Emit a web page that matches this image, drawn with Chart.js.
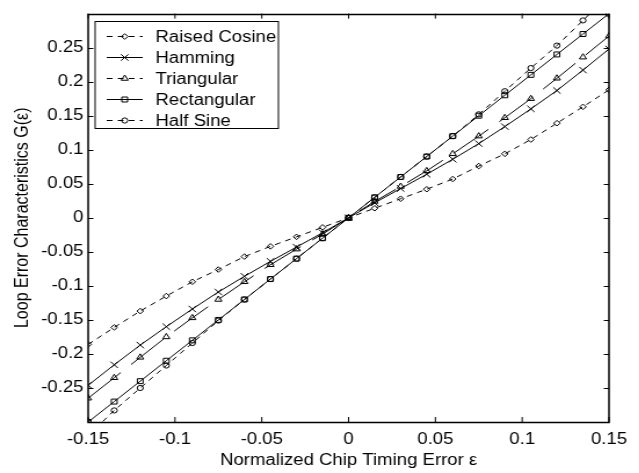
<!DOCTYPE html>
<html>
<head>
<meta charset="utf-8">
<script src="https://cdn.jsdelivr.net/npm/chart.js@4.4.1/dist/chart.umd.min.js"></script>
<style>
  html, body { margin: 0; padding: 0; background: #fff; }
  #wrap { width: 639px; height: 473px; overflow: hidden; }
  /* the original figure is stretched sideways, so the canvas is too */
  #loopChart { transform: scaleX(1.16); transform-origin: 0 0; }
</style>
</head>
<body>
<div id="wrap"><canvas id="loopChart" width="551" height="473"></canvas></div>
<script>
// Loop error characteristics of the DLL for several chip pulse shapes

// ============================================================
// DATA
// ============================================================
const eps = [-0.15, -0.135, -0.12, -0.105, -0.09, -0.075, -0.06, -0.045, -0.03, -0.015, 0,
             0.015, 0.03, 0.045, 0.06, 0.075, 0.09, 0.105, 0.12, 0.135, 0.15];

const raisedCosine = [-0.186, -0.161, -0.137, -0.115, -0.094, -0.076, -0.057, -0.042, -0.028, -0.014, 0,
                      0.014, 0.028, 0.042, 0.057, 0.076, 0.094, 0.115, 0.139, 0.163, 0.188];
const hamming = [-0.246, -0.216, -0.187, -0.160, -0.134, -0.109, -0.086, -0.064, -0.043, -0.022, 0,
                 0.022, 0.043, 0.064, 0.086, 0.109, 0.134, 0.160, 0.187, 0.217, 0.248];
const triangular = [-0.265, -0.235, -0.205, -0.175, -0.147, -0.120, -0.094, -0.069, -0.046, -0.024, 0,
                    0.024, 0.046, 0.069, 0.094, 0.120, 0.147, 0.175, 0.205, 0.236, 0.267];
const rectangular = [-0.30, -0.27, -0.24, -0.21, -0.18, -0.15, -0.12, -0.09, -0.06, -0.03, 0,
                     0.03, 0.06, 0.09, 0.12, 0.15, 0.18, 0.21, 0.24, 0.27, 0.30];
const halfSine = [-0.32, -0.283, -0.25, -0.217, -0.184, -0.151, -0.12, -0.09, -0.06, -0.03, 0,
                  0.03, 0.06, 0.09, 0.12, 0.152, 0.186, 0.22, 0.253, 0.29, 0.327];

const xTicks = [-0.15, -0.1, -0.05, 0, 0.05, 0.1, 0.15];
const yTicks = [-0.25, -0.2, -0.15, -0.1, -0.05, 0, 0.05, 0.1, 0.15, 0.2, 0.25];

// ============================================================
// HELPERS
// ============================================================
const FONT = 'Arial, "Liberation Sans", sans-serif';
const INK = '#000';

function pts(values) {
    return eps.map((x, i) => ({ x: x, y: values[i] }));
}

function fmt(v) {
    return String(Number(v.toFixed(2)));
}

function series(label, values, style, radius, dash) {
    return {
        label: label,
        data: pts(values),
        borderColor: INK,
        backgroundColor: 'transparent',
        borderWidth: 1,
        borderDash: dash,
        pointStyle: style,
        pointRadius: radius,
        pointBorderColor: INK,
        pointBackgroundColor: 'transparent',
        pointBorderWidth: 1,
        tension: 0
    };
}

// Box round the axes with inward ticks (MATLAB look)
const framePlugin = {
    id: 'frame',
    afterDraw(chart) {
        const { ctx, chartArea: a, scales } = chart;
        ctx.save();
        ctx.strokeStyle = INK;
        ctx.lineWidth = 1;
        ctx.beginPath();
        xTicks.forEach(v => {
            const x = scales.x.getPixelForValue(v);
            ctx.moveTo(x, a.bottom); ctx.lineTo(x, a.bottom - 5);
            ctx.moveTo(x, a.top); ctx.lineTo(x, a.top + 5);
        });
        yTicks.forEach(v => {
            const y = Math.round(scales.y.getPixelForValue(v)) + 0.5;
            ctx.moveTo(a.left, y); ctx.lineTo(a.left + 4.5, y);
            ctx.moveTo(a.right, y); ctx.lineTo(a.right - 4.5, y);
        });
        ctx.stroke();
        ctx.lineWidth = 1.5;
        ctx.strokeRect(a.left, Math.round(a.top) + 0.5, a.right - a.left, Math.round(a.bottom - a.top));
        ctx.restore();
    }
};

// Boxed legend in the upper left corner of the axes
const boxLegendPlugin = {
    id: 'boxLegend',
    afterDraw(chart) {
        const ctx = chart.ctx;
        const a = chart.chartArea;
        const x0 = a.left + 6, y0 = Math.round(a.top) + 7, w = 158, h = 107;
        ctx.save();
        ctx.fillStyle = '#fff';
        ctx.fillRect(x0, y0, w, h);
        ctx.strokeStyle = INK;
        ctx.lineWidth = 1;
        ctx.strokeRect(x0, y0 + 0.5, w, h);
        chart.data.datasets.forEach((ds, i) => {
            const y = y0 + 15 + i * 21 + 0.5;
            ctx.beginPath();
            ctx.setLineDash(ds.borderDash.length ? [5, 4.5] : []);
            ctx.moveTo(x0 + 10, y);
            ctx.lineTo(x0 + 41, y);
            ctx.stroke();
            ctx.setLineDash([]);
            ctx.fillStyle = 'transparent';
            Chart.helpers.drawPoint(ctx, {
                pointStyle: ds.pointStyle,
                radius: ds.pointRadius,
                rotation: 0,
                borderWidth: 1
            }, x0 + 25.5, y);
            ctx.fillStyle = INK;
            ctx.font = '16px ' + FONT;
            ctx.textBaseline = 'middle';
            ctx.textAlign = 'left';
            ctx.fillText(ds.label, x0 + 52, y + 1);
        });
        ctx.restore();
    }
};

// ============================================================
// CHART
// ============================================================
new Chart(document.getElementById('loopChart'), {
    type: 'line',
    data: {
        datasets: [
            series('Raised Cosine', raisedCosine, 'rectRot', 2.8, [5, 4.5]),
            series('Hamming', hamming, 'crossRot', 4.5, []),
            series('Triangular', triangular, 'triangle', 3.5, [38, 12]),
            series('Rectangular', rectangular, 'rect', 3.5, []),
            series('Half Sine', halfSine, 'circle', 2.6, [5, 4.5])
        ]
    },
    options: {
        responsive: false,
        animation: false,
        devicePixelRatio: 1,
        layout: { padding: { top: 9, right: 26, left: 0, bottom: 0 } },
        plugins: {
            legend: { display: false },
            tooltip: { enabled: false }
        },
        scales: {
            x: {
                type: 'linear',
                min: -0.15,
                max: 0.15,
                afterFit: s => { s.height = 51; },
                afterBuildTicks: s => { s.ticks = xTicks.map(v => ({ value: v })); },
                grid: { display: false, drawTicks: false },
                border: { display: false },
                ticks: {
                    color: INK,
                    padding: 8,
                    maxRotation: 0,
                    font: { family: FONT, size: 16 },
                    callback: v => fmt(v)
                },
                title: {
                    display: true,
                    text: 'Normalized Chip Timing Error ε',
                    color: INK,
                    font: { family: FONT, size: 16 },
                    padding: { top: 0, bottom: 3 }
                }
            },
            y: {
                type: 'linear',
                min: -0.3,
                max: 0.3,
                afterFit: s => { s.width = 76; },
                afterBuildTicks: s => { s.ticks = yTicks.map(v => ({ value: v })); },
                grid: { display: false, drawTicks: false },
                border: { display: false },
                ticks: {
                    color: INK,
                    padding: 4,
                    font: { family: FONT, size: 16 },
                    callback: v => fmt(v)
                },
                title: {
                    display: true,
                    text: 'Loop Error Characteristics G(ε)',
                    color: INK,
                    font: { family: FONT, size: 16 },
                    padding: { top: 10, bottom: 0 }
                }
            }
        }
    },
    plugins: [framePlugin, boxLegendPlugin]
});
</script>
</body>
</html>
